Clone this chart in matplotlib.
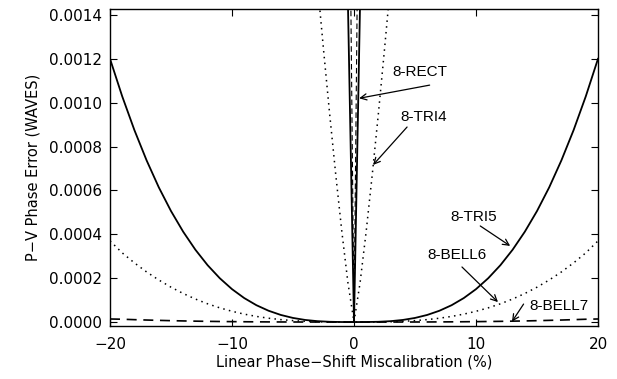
import numpy as np
import matplotlib.pyplot as plt

# wide curves, sampled every 1 % of miscalibration
x_wide = [-20, -19, -18, -17, -16, -15, -14, -13, -12, -11, -10, -9, -8, -7, -6, -5, -4, -3, -2, -1,
          0, 1, 2, 3, 4, 5, 6, 7, 8, 9, 10, 11, 12, 13, 14, 15, 16, 17, 18, 19, 20]
tri5_half = [0.0, 1.5e-7, 1.2e-6, 4.05e-6, 9.6e-6, 1.875e-5, 3.24e-5, 5.15e-5, 7.68e-5, 1.094e-4,
             1.5e-4, 1.997e-4, 2.592e-4, 3.296e-4, 4.116e-4, 5.06e-4, 6.14e-4, 7.37e-4, 8.75e-4,
             1.029e-3, 1.2e-3]
bell6_half = [0.0, 6.2e-8, 4.6e-7, 1.49e-6, 3.44e-6, 6.57e-6, 1.115e-5, 1.743e-5, 2.567e-5,
              3.612e-5, 4.904e-5, 6.467e-5, 8.316e-5, 1.049e-4, 1.301e-4, 1.589e-4, 1.917e-4,
              2.284e-4, 2.697e-4, 3.154e-4, 3.7e-4]
bell7_half = [0.0, 2e-9, 1.5e-8, 5e-8, 1.2e-7, 2.3e-7, 4.1e-7, 6.5e-7, 9.6e-7, 1.37e-6, 1.9e-6,
              2.5e-6, 3.2e-6, 4.1e-6, 5.1e-6, 6.3e-6, 7.7e-6, 9.2e-6, 1.09e-5, 1.28e-5, 1.4e-5]
tri5 = tri5_half[::-1] + tri5_half[1:]
bell6 = bell6_half[::-1] + bell6_half[1:]
bell7 = bell7_half[::-1] + bell7_half[1:]

# narrow curves near zero
x_tri4 = [-3.0, -2.5, -2.0, -1.5, -1.0, -0.5, 0.0, 0.5, 1.0, 1.5, 2.0, 2.5, 3.0]
tri4 = [1.547e-3, 1.243e-3, 9.51e-4, 6.74e-4, 4.14e-4, 1.80e-4, 0.0,
        1.80e-4, 4.14e-4, 6.74e-4, 9.51e-4, 1.243e-3, 1.547e-3]
x_rect = [-0.5, 0.0, 0.5]
rect = [1.46e-3, 0.0, 1.46e-3]
x_spike = [-0.26, 0.0, 0.26]
spike = [1.46e-3, 0.0, 1.46e-3]

labels = ['8-RECT', '8-TRI4', '8-TRI5', '8-BELL6', '8-BELL7']
label_xy = [(5.4, 0.00114), (5.75, 0.000935), (9.85, 0.000479), (8.45, 0.000306), (16.8, 0.000073)]
arrow_from = [(6.2, 0.00108), (4.35, 0.000889), (10.35, 0.000438), (8.85, 0.000251), (13.9, 0.000082)]
arrow_to = [(0.42, 0.00102), (1.56, 0.000716), (12.8, 0.000347), (11.8, 0.000091), (12.95, 0.000002)]

plt.rcParams['font.family'] = ['DejaVu Sans']

fig = plt.figure(figsize=(6.17, 3.79), dpi=100)
ax = fig.add_axes([110 / 617, 1 - 326 / 379, 488 / 617, 317 / 379])

dot = (0, (1, 2.8))
dash = (0, (6, 4))
ax.plot(x_wide, tri5, color='black', lw=1.3)
ax.plot(x_wide, bell6, color='black', lw=1.1, linestyle=dot)
ax.plot(x_wide, bell7, color='black', lw=1.2, linestyle=dash)
ax.plot(x_tri4, tri4, color='black', lw=1.1, linestyle=dot)
ax.plot(x_rect, rect, color='black', lw=1.3)
ax.plot(x_spike, spike, color='black', lw=0.8, linestyle=(0, (5, 3)))

for lab, (tx, ty), p0, p1 in zip(labels, label_xy, arrow_from, arrow_to):
    ax.text(tx, ty, lab, ha='center', va='center', fontsize=11,
            family=['Liberation Sans', 'DejaVu Sans'])
    ax.annotate('', xy=p1, xytext=p0,
                arrowprops=dict(arrowstyle='->', lw=0.9, color='black',
                                mutation_scale=11, shrinkA=0, shrinkB=0))

ax.set_xlim(-20, 20)
ax.set_ylim(-0.000018, 0.001427)
ax.set_xticks([-20, -10, 0, 10, 20])
ax.set_yticks(np.arange(0, 0.00141, 0.0002))
ax.yaxis.set_major_formatter(plt.FormatStrFormatter('%.4f'))
ax.tick_params(direction='in', top=True, right=True, length=5, width=0.8,
               labelsize=11, pad=8)
ax.tick_params(axis='y', pad=6)
for s in ax.spines.values():
    s.set_linewidth(1.0)

ax.set_xlabel('Linear Phase\u2212Shift Miscalibration (%)', fontsize=10.5, labelpad=2)
ax.set_ylabel('P\u2212V Phase Error (WAVES)', fontsize=10.5, labelpad=6)

fig.savefig('out.png', dpi=100)
